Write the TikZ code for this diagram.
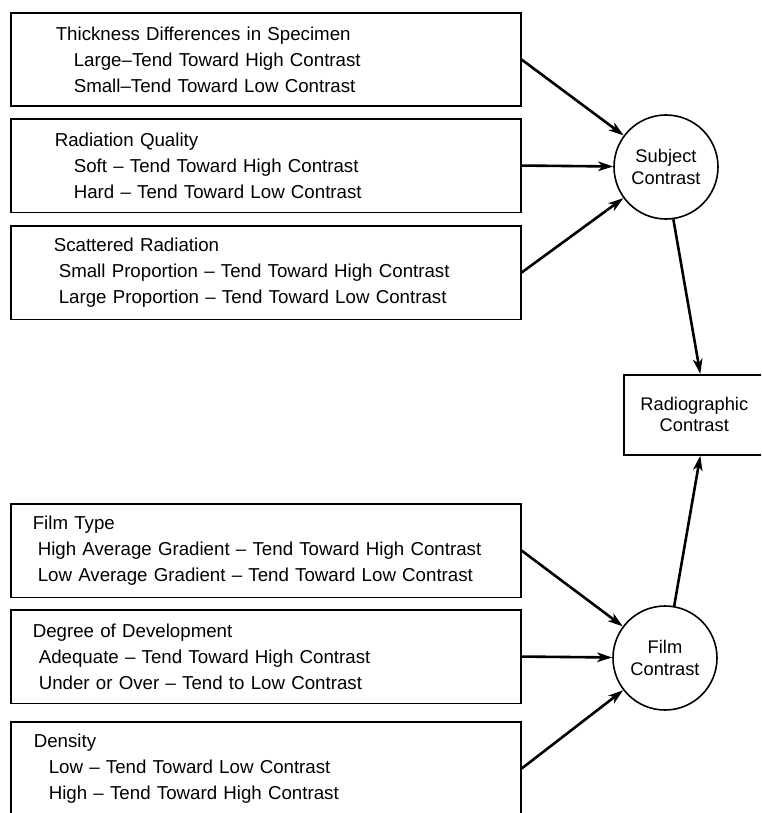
\documentclass[tikz,border=0pt]{standalone}
\usepackage{fontspec}
\setmainfont{Liberation Sans}
\usetikzlibrary{arrows.meta}
\begin{document}
\begin{tikzpicture}[x=1pt,y=-1pt,
  box/.style={draw,line width=1.6pt,anchor=north west,minimum width=510pt,minimum height=93.5pt,text width=510pt,inner xsep=0pt,inner ysep=0pt,align=left,font=\fontsize{18.7}{26}\selectfont},
  circ/.style={draw,circle,line width=1.6pt,minimum size=104pt,inner sep=0pt,align=center,font=\fontsize{18.3}{22}\selectfont},
  rbox/.style={draw,line width=1.6pt,anchor=north west,minimum width=141pt,minimum height=80pt,inner sep=0pt,align=center,font=\fontsize{18.3}{21}\selectfont},
  arr/.style={line width=2.6pt,-{Stealth[length=15pt,width=9.5pt,inset=4pt]}},
]
\useasboundingbox (0,0) rectangle (761,813);
\clip (0,0) rectangle (761,813);

\node[box] (b1) at (10,12) {\hspace*{45pt}Thickness Differences in Specimen\\
\hspace*{63pt}Large–Tend Toward High Contrast\\
\hspace*{63pt}Small–Tend Toward Low Contrast};
\node[box] (b2) at (10,118) {\hspace*{44pt}Radiation Quality\\
\hspace*{63pt}Soft – Tend Toward High Contrast\\
\hspace*{63pt}Hard – Tend Toward Low Contrast};
\node[box] (b3) at (10,225) {\hspace*{43pt}Scattered Radiation\\
\hspace*{48pt}Small Proportion – Tend Toward High Contrast\\
\hspace*{48pt}Large Proportion – Tend Toward Low Contrast};
\node[box] (b4) at (10,503) {\hspace*{22pt}Film Type\\
\hspace*{27pt}High Average Gradient – Tend Toward High Contrast\\
\hspace*{27pt}Low Average Gradient – Tend Toward Low Contrast};
\node[box] (b5) at (10,609) {\hspace*{22pt}Degree of Development\\
\hspace*{28pt}Adequate – Tend Toward High Contrast\\
\hspace*{28pt}Under or Over – Tend to Low Contrast};
\node[box] (b6) at (10,721) {\hspace*{23pt}Density\\
\hspace*{38pt}Low – Tend Toward Low Contrast\\
\hspace*{38pt}High – Tend Toward High Contrast};

\node[circ] (sc) at (666,167) {Subject\\Contrast};
\node[circ] (fc) at (665,658) {Film\\Contrast};
\node[rbox] (rc) at (623,374) {Radiographic\\Contrast};

\draw[arr] (b1.east) -- (sc);
\draw[arr] (b2.east) -- (sc);
\draw[arr] (b3.east) -- (sc);
\draw[arr] (b4.east) -- (fc);
\draw[arr] (b5.east) -- (fc);
\draw[arr] (b6.east) -- (fc);
\draw[arr] (sc.-82) -- ([xshift=6pt]rc.north);
\draw[arr] (fc.80) -- ([xshift=6pt]rc.south);
\end{tikzpicture}
\end{document}
